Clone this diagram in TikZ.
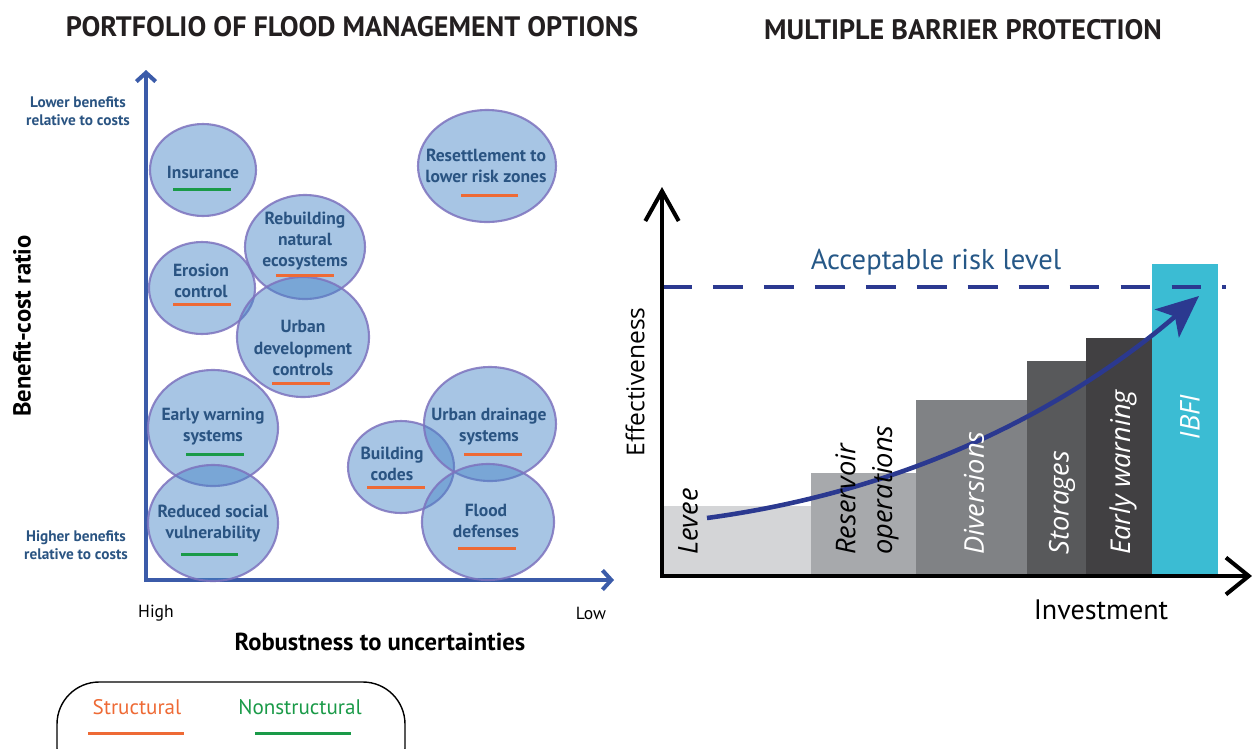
\documentclass[tikz,border=0pt]{standalone}
\usepackage{fontspec}
\setmainfont{PT Sans}
\newfontfamily\opfont{Open Sans}
\usetikzlibrary{arrows.meta}
\definecolor{axblue}{RGB}{59,91,169}
\definecolor{elfill}{RGB}{71,133,199}
\definecolor{eldraw}{RGB}{125,115,190}
\definecolor{lbl}{RGB}{42,84,130}
\definecolor{orng}{RGB}{238,106,53}
\definecolor{grn}{RGB}{26,154,72}
\definecolor{dashc}{RGB}{43,57,144}
\definecolor{ttl}{RGB}{35,31,32}
\definecolor{riskc}{RGB}{38,88,135}
\definecolor{barA}{RGB}{212,213,215}
\definecolor{barB}{RGB}{167,169,172}
\definecolor{barC}{RGB}{128,130,133}
\definecolor{barD}{RGB}{88,89,91}
\definecolor{barE}{RGB}{65,64,66}
\definecolor{barF}{RGB}{59,188,211}
\begin{document}
\begin{tikzpicture}[x=0.02cm,y=-0.02cm,
  blob/.style={fill=elfill, fill opacity=0.48, draw=eldraw, draw opacity=0.85, line width=1.2pt},
  lab/.style={font=\bfseries\fontsize{10}{12}\selectfont, text=lbl, align=center, inner sep=0pt},
  small/.style={font=\bfseries\fontsize{8.7}{10.5}\selectfont, text=lbl, align=center, inner sep=0pt},
  ttlstyle/.style={font=\bfseries\fontsize{16}{18}\selectfont, text=ttl, inner sep=0pt},
  ulo/.style={draw=orng, line width=1.7pt},
  ulg/.style={draw=grn, line width=1.7pt},
  barlab/.style={font=\opfont\itshape\fontsize{15.5}{21}\selectfont, rotate=90, anchor=west, inner sep=0pt, align=left},
]
\useasboundingbox (0,0) rectangle (1252,748);
\clip (0,0) rectangle (1252,748);

% ---------------- left panel ----------------
\node[ttlstyle] (t1) at (352,27) {PORTFOLIO OF FLOOD MANAGEMENT OPTIONS};

\coordinate (o) at (146,580);
\coordinate (ytop) at (146,70);
\coordinate (xend) at (614,580);
\draw[axblue, line width=2.3pt, -{Straight Barb[length=5pt,width=11pt,line width=2.3pt]}] (146,582) -- (ytop);
\draw[axblue, line width=2.3pt, -{Straight Barb[length=5pt,width=11pt,line width=2.3pt]}] (144,580) -- (xend);

\node[small] (lb) at (78,111) {Lower benefits\\relative to costs};
\node[small] (hb) at (76,545) {Higher benefits\\relative to costs};
\node[font=\bfseries\fontsize{14}{16}\selectfont, rotate=90, text=black] (bcr) at (22,326) {Benefit-cost ratio};
\node[font=\fontsize{10}{12}\selectfont, text=black] (hi) at (156,613) {High};
\node[font=\fontsize{10}{12}\selectfont, text=black] (lo) at (591,613) {Low};
\node[font=\bfseries\fontsize{14}{16}\selectfont, text=black] (rob) at (380,642) {Robustness to uncertainties};

% ellipses
\draw[blob] (203,170) ellipse [x radius=53, y radius=46];
\draw[blob] (202,288) ellipse [x radius=53, y radius=46];
\draw[blob] (305,247) ellipse [x radius=60, y radius=52];
\draw[blob] (303,337) ellipse [x radius=66, y radius=60];
\draw[blob] (213,428) ellipse [x radius=65, y radius=58];
\draw[blob] (213,523) ellipse [x radius=65, y radius=58];
\draw[blob] (401,467) ellipse [x radius=53, y radius=46];
\draw[blob] (490,424) ellipse [x radius=66, y radius=57];
\draw[blob] (488,522) ellipse [x radius=66, y radius=58];
\draw[blob] (487,166) ellipse [x radius=69, y radius=56];

% labels
\node[lab] (ins) at (203,172) {Insurance};
\draw[ulg] (173,189) -- (231,189);
\node[lab] (ero) at (201,281) {Erosion\\control};
\draw[ulo] (173,304) -- (231,304);
\node[lab] (reb) at (305,241) {Rebuilding\\natural\\ecosystems};
\draw[ulo] (276,275) -- (334,275);
\node[lab] (udc) at (303,348) {Urban\\development\\controls};
\draw[ulo] (272,383) -- (330,383);
\node[lab] (ews) at (213,427) {Early warning\\systems};
\draw[ulg] (186,454) -- (244,454);
\node[lab] (rsv) at (213,524) {Reduced social\\vulnerability};
\draw[ulg] (181,554) -- (238,554);
\node[lab] (bc) at (392,464) {Building\\codes};
\draw[ulo] (367,487) -- (425,487);
\node[lab] (uds) at (489,427) {Urban drainage\\systems};
\draw[ulo] (464,454) -- (522,454);
\node[lab] (fd) at (486,521) {Flood\\defenses};
\draw[ulo] (458,548) -- (516,548);
\node[lab] (res) at (486,166) {Resettlement to\\lower risk zones};
\draw[ulo] (461,195) -- (518,195);

% legend
\draw[line width=0.8pt, rounded corners=24pt] (57,682) rectangle (405,790);
\node[font=\fontsize{12}{14}\selectfont, text=orng] (st) at (137,707) {Structural};
\draw[ulo] (88,733) -- (184,733);
\node[font=\fontsize{12}{14}\selectfont, text=grn] (ns) at (300,707) {Nonstructural};
\draw[ulg] (255,733) -- (351,733);

% ---------------- right panel ----------------
\node[ttlstyle] (t2) at (963,30) {MULTIPLE BARRIER PROTECTION};

\fill[barA] (662,506) rectangle (811,576);
\fill[barB] (811,473) rectangle (916,576);
\fill[barC] (916,400) rectangle (1027,576);
\fill[barD] (1027,361) rectangle (1086,576);
\fill[barE] (1086,338) rectangle (1152,576);
\fill[barF] (1152,264) rectangle (1218,576);

% dashed acceptable risk line
\coordinate (d1) at (662,287);
\coordinate (d2) at (1226,287);
\draw[dashc, line width=2.3pt, dash pattern=on 17pt off 12pt] (d1) -- (d2);
\node[font=\fontsize{16.3}{18}\selectfont, text=riskc] (arl) at (936,262) {Acceptable risk level};

% curve (under the bar labels)
\coordinate (c0) at (707,518);
\coordinate (c1) at (1199,296);
\draw[dashc, line width=2.6pt, -{Stealth[length=24pt,width=21pt,inset=6pt]}] (c0) .. controls (900,492) and (1060,415) .. (c1);

\node[barlab, text=black] (lev) at (688,555) {Levee};
\node[barlab, text=black] (rop) at (867,555) {Reservoir\\operations};
\node[barlab, text=white] (div) at (974,555) {Diversions};
\node[barlab, text=white] (sto) at (1062,555) {Storages};
\node[barlab, text=white] (ew) at (1123,555) {Early warning};
\node[font=\opfont\itshape\fontsize{15.5}{18}\selectfont, rotate=90, text=white, inner sep=0pt] (ibfi) at (1190,417) {IBFI};

% axes
\coordinate (ro) at (662,576);
\coordinate (rtop) at (662,187);
\coordinate (rend) at (1252,576);
\draw[black, line width=2.3pt, -{Straight Barb[length=17pt,width=19pt,line width=2.3pt]}] (662,578) -- (rtop);
\draw[black, line width=2.3pt, -{Straight Barb[length=13pt,width=21pt,line width=2.3pt]}] (660,576) -- (rend);

\node[font=\opfont\fontsize{14}{16}\selectfont, rotate=90, text=black] (eff) at (635,382) {Effectiveness};
\node[font=\fontsize{16}{18}\selectfont, text=black] (inv) at (1101,610) {Investment};
\end{tikzpicture}
\end{document}
